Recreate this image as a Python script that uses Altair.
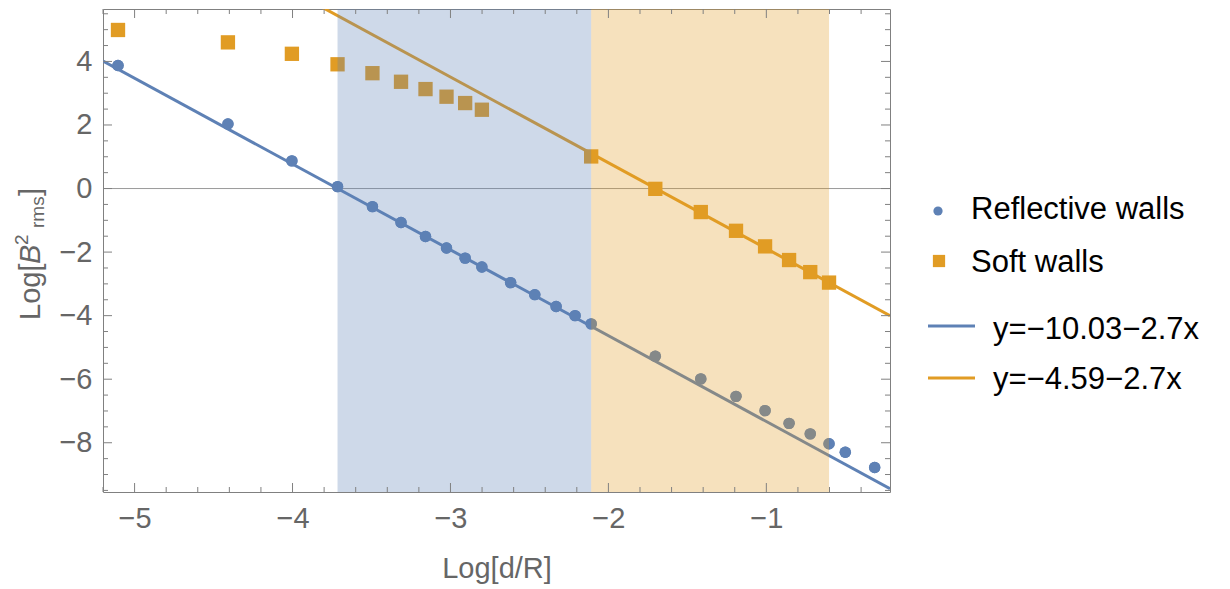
import altair as alt
import pandas as pd

# ---------------- data ----------------
x_log = [-5.105, -4.409, -4.004, -3.715, -3.494, -3.313, -3.158, -3.025, -2.907, -2.801,
         -2.619, -2.466, -2.331, -2.211, -2.109, -1.703, -1.415, -1.192, -1.008, -0.856,
         -0.722, -0.603, -0.500, -0.314]
reflective_y = [3.87, 2.03, 0.87, 0.06, -0.57, -1.07, -1.51, -1.87, -2.19, -2.47,
                -2.96, -3.34, -3.71, -4.00, -4.26, -5.28, -5.99, -6.54, -6.99, -7.39,
                -7.72, -8.03, -8.30, -8.78]
soft_x = [-5.105, -4.409, -4.004, -3.715, -3.494, -3.313, -3.158, -3.025, -2.907, -2.801,
          -2.109, -1.703, -1.415, -1.192, -1.008, -0.856, -0.722, -0.603]
soft_y = [4.99, 4.60, 4.24, 3.91, 3.63, 3.36, 3.13, 2.89, 2.69, 2.48,
          1.01, -0.01, -0.74, -1.33, -1.82, -2.25, -2.63, -2.96]

series_names = ["Reflective walls", "Soft walls"]
fit_names = ["y=\u221210.03\u22122.7x", "y=\u22124.59\u22122.7x"]
fit_intercepts = [-10.03, -4.59]
fit_slopes = [-2.7, -2.7]

band_start = [-3.715, -2.109]
band_end = [-2.109, -0.603]

x_domain = [-5.2, -0.217]
y_domain = [-9.55, 5.65]

x_major = [-5, -4, -3, -2, -1]
x_minor = [-5.2, -4.8, -4.6, -4.4, -4.2, -3.8, -3.6, -3.4, -3.2, -2.8, -2.6, -2.4,
           -2.2, -1.8, -1.6, -1.4, -1.2, -0.8, -0.6, -0.4]
y_major = [-8, -6, -4, -2, 0, 2, 4]
y_minor = [-9.5, -9, -8.5, -7.5, -7, -6.5, -5.5, -5, -4.5, -3.5, -3, -2.5, -1.5, -1,
           -0.5, 0.5, 1, 1.5, 2.5, 3, 3.5, 4.5, 5, 5.5]

# ---------------- styling ----------------
BLUE = "#5E81B5"
ORANGE = "#E19C24"
FRAME = "#808080"
LABEL = "#666666"
FONT = "Liberation Sans"
W, H = 787, 483
PL, PT = 95, 1  # padding -> plot left at page x=103, top at y=9

xs = alt.Scale(domain=x_domain, nice=False, zero=False)
ys = alt.Scale(domain=y_domain, nice=False, zero=False)

xaxis = alt.Axis(values=x_major, format="d", labelFontSize=29, labelColor=LABEL, labelFont=FONT,
                 ticks=False, domain=False, grid=False, labelPadding=12,
                 title="Log[d/R]", titleFontSize=29, titleColor=LABEL, titleFont=FONT,
                 titleFontWeight="normal", titlePadding=21)
yaxis = alt.Axis(values=y_major, format="d", labelFontSize=29, labelColor=LABEL, labelFont=FONT,
                 ticks=False, domain=False, grid=False, labelPadding=11, title=None)


def X(field):
    return alt.X(field, scale=xs, axis=xaxis)


def Y(field):
    return alt.Y(field, scale=ys, axis=yaxis)


refl_df = pd.DataFrame({"x": x_log, "y": reflective_y})
soft_df = pd.DataFrame({"x": soft_x, "y": soft_y})

layers = []

# points first (carry the axes)
layers.append(alt.Chart(refl_df).mark_point(shape="circle", filled=True, size=130, color=BLUE, opacity=1)
              .encode(x=X("x:Q"), y=Y("y:Q")))

# zero axis line
layers.append(alt.Chart(pd.DataFrame({"y": [0]})).mark_rule(color="#9a9a9a", strokeWidth=1)
              .encode(y=Y("y:Q")))

# fit lines
for name, a, b, col in zip(fit_names, fit_intercepts, fit_slopes, [BLUE, ORANGE]):
    df = pd.DataFrame({"x": x_domain, "y": [a + b * x_domain[0], a + b * x_domain[1]]})
    layers.append(alt.Chart(df).mark_line(color=col, strokeWidth=3, clip=True)
                  .encode(x=X("x:Q"), y=Y("y:Q")))

# points again on top of lines
layers.append(alt.Chart(refl_df).mark_point(shape="circle", filled=True, size=130, color=BLUE, opacity=1)
              .encode(x=X("x:Q"), y=Y("y:Q")))
layers.append(alt.Chart(soft_df).mark_point(shape="square", filled=True, size=205, color=ORANGE, opacity=1)
              .encode(x=X("x:Q"), y=Y("y:Q")))

# shaded bands (drawn on top, translucent)
for s, e, col in zip(band_start, band_end, [BLUE, ORANGE]):
    df = pd.DataFrame({"x": [s], "e": [e]})
    layers.append(alt.Chart(df).mark_rect(color=col, opacity=0.3)
                  .encode(x=X("x:Q"), x2="e:Q"))


# frame ticks (pointing inward)
def xticks(vals, y0, y1):
    return (alt.Chart(pd.DataFrame({"x": vals})).mark_rule(color=FRAME, strokeWidth=1)
            .encode(x=X("x:Q"), y=alt.value(y0), y2=alt.value(y1)))


def yticks(vals, x0, x1):
    return (alt.Chart(pd.DataFrame({"y": vals})).mark_rule(color=FRAME, strokeWidth=1)
            .encode(y=Y("y:Q"), x=alt.value(x0), x2=alt.value(x1)))


layers += [xticks(x_major, H, H - 9), xticks(x_minor, H, H - 5),
           xticks(x_major, 0, 9), xticks(x_minor, 0, 5),
           yticks(y_major, 0, 9), yticks(y_minor, 0, 5),
           yticks(y_major, W, W - 9), yticks(y_minor, W, W - 5)]


# y-axis title built from pieces: Log[ B ^2 _rms ]
def txt(s, x, y, size, style="normal", angle=270, color=LABEL, align="left", baseline="alphabetic"):
    return (alt.Chart(pd.DataFrame({"t": [s]}))
            .mark_text(font=FONT, fontSize=size, fontStyle=style, angle=angle, color=color,
                       align=align, baseline=baseline)
            .encode(text="t:N", x=alt.value(x), y=alt.value(y)))


bx = 40 - 103
layers += [txt("Log[", bx, 320 - 9, 29),
           txt("B", bx, 264 - 9, 29, style="italic"),
           txt("2", bx - 12, 245 - 9, 19),
           txt("rms", bx + 4, 228 - 9, 19),
           txt("]", bx, 196 - 9, 29)]

# legend
layers.append(alt.Chart(pd.DataFrame({"n": [series_names[0]]})).mark_point(
    shape="circle", filled=True, size=85, color=BLUE, opacity=1)
    .encode(x=alt.value(938 - 103), y=alt.value(211 - 9)))
layers.append(alt.Chart(pd.DataFrame({"n": [series_names[1]]})).mark_point(
    shape="square", filled=True, size=150, color=ORANGE, opacity=1)
    .encode(x=alt.value(939 - 103), y=alt.value(261 - 9)))
layers.append(txt(series_names[0], 971 - 103, 210 - 9, 31, angle=0, color="#000000", baseline="middle"))
layers.append(txt(series_names[1], 971 - 103, 263 - 9, 31, angle=0, color="#000000", baseline="middle"))
for name, col, ly, ty in zip(fit_names, [BLUE, ORANGE], [326, 378], [330, 380]):
    layers.append(alt.Chart(pd.DataFrame({"n": [name]})).mark_rule(color=col, strokeWidth=3)
                  .encode(x=alt.value(928 - 103), x2=alt.value(975 - 103), y=alt.value(ly - 9)))
    layers.append(txt(name, 993 - 103, ty - 9, 31, angle=0, color="#000000", baseline="middle"))

chart = (alt.layer(*layers)
         .properties(width=W, height=H,
                     padding={"left": PL, "top": PT, "right": 1214 - PL - W, "bottom": 589 - 8 - PT - H - 2},
                     autosize=alt.AutoSizeParams(type="none"))
         .configure_view(stroke=FRAME, strokeWidth=1))

chart.save("out.html", embed_options={"renderer": "svg", "actions": False})
